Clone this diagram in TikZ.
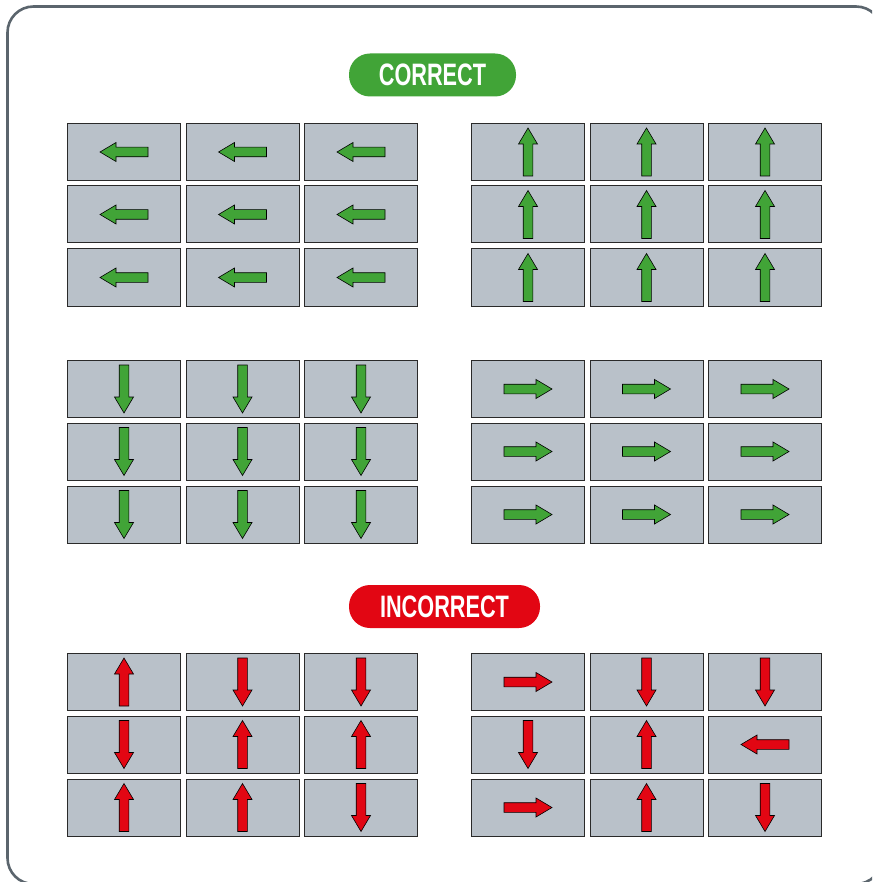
\documentclass[tikz,border=0pt]{standalone}
\usepackage{fontspec}
\setmainfont{Liberation Sans}
\usepackage{graphicx}
\definecolor{framegray}{HTML}{5B656D}
\definecolor{cellfill}{HTML}{B9C1C9}
\definecolor{cellline}{HTML}{2A2A2A}
\definecolor{okgreen}{HTML}{41A437}
\definecolor{badred}{HTML}{E20613}
\tikzset{
  cell/.style={draw=cellline, fill=cellfill, line width=1pt, minimum width=113pt, minimum height=57pt, inner sep=0pt},
  arrowshape/.style={draw=black, line width=0.6pt, line join=miter},
  pill/.style={rounded corners=21pt, inner sep=0pt, minimum height=43pt, text=white, font=\bfseries\fontsize{31}{32}\selectfont},
}
\newcommand\arw[3]{\draw[arrowshape, fill=#3, shift={(#1.center)}, rotate=#2] (-24,-4.8) -- (8,-4.8) -- (8,-9.5) -- (24,0) -- (8,9.5) -- (8,4.8) -- (-24,4.8) -- cycle;}
\begin{document}
\begin{tikzpicture}[x=1pt,y=-1pt]
\useasboundingbox (0,0) rectangle (872,882);
\begin{scope}
\clip (0,0) rectangle (872,882);
\draw[framegray, line width=2.6pt, rounded corners=26pt] (7.5,6.5) rectangle (882,884);
\end{scope}
% labels
\node[pill, fill=okgreen, minimum width=167pt] (lblok) at (432.5,75) {\scalebox{0.7}[1]{CORRECT}};
\node[pill, fill=badred, minimum width=191pt] (lblbad) at (444.5,606.5) {\scalebox{0.7}[1]{INCORRECT}};
% grids
\foreach \g/\gx/\gy in {a/0/0, b/404/0, c/0/237, d/404/237, e/0/530, f/404/530}{
  \foreach \c/\cx in {1/124, 2/242.5, 3/361}{
    \foreach \r/\ry in {1/152, 2/214.5, 3/277.5}{
      \node[cell] (\g\r\c) at (\cx+\gx, \ry+\gy) {};
    }
  }
}
% correct arrows
\foreach \r in {1,2,3}{
  \foreach \c in {1,2,3}{
    \arw{a\r\c}{180}{okgreen}
    \arw{b\r\c}{90}{okgreen}
    \arw{c\r\c}{-90}{okgreen}
    \arw{d\r\c}{0}{okgreen}
  }
}
% incorrect left grid
\arw{e11}{90}{badred}
\arw{e12}{-90}{badred}
\arw{e13}{-90}{badred}
\arw{e21}{-90}{badred}
\arw{e22}{90}{badred}
\arw{e23}{90}{badred}
\arw{e31}{90}{badred}
\arw{e32}{90}{badred}
\arw{e33}{-90}{badred}
% incorrect right grid
\arw{f11}{0}{badred}
\arw{f12}{-90}{badred}
\arw{f13}{-90}{badred}
\arw{f21}{-90}{badred}
\arw{f22}{90}{badred}
\arw{f23}{180}{badred}
\arw{f31}{0}{badred}
\arw{f32}{90}{badred}
\arw{f33}{-90}{badred}
\end{tikzpicture}
\end{document}
